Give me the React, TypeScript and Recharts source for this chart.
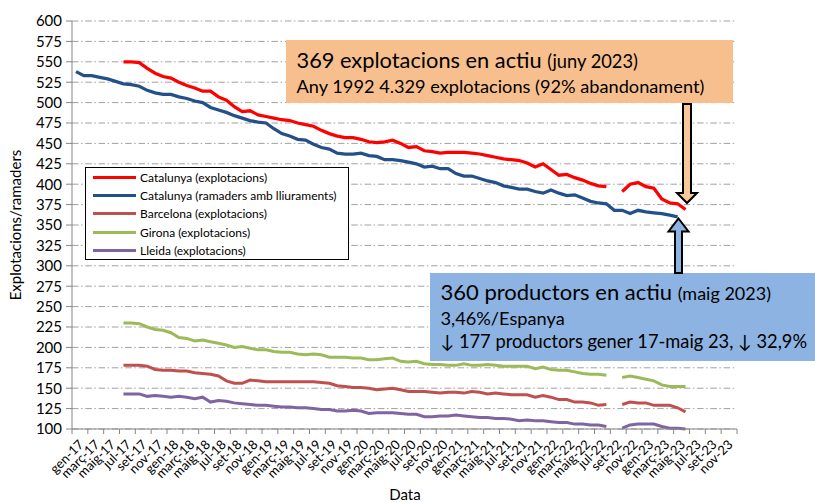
import { LineChart, Line, XAxis, YAxis, CartesianGrid, Legend } from "recharts";

// monthly data, gen-17 .. des-23 (index 0 = gen-17)
const tickLabels = [
  "gen-17", "març-17", "maig-17", "jul-17", "set-17", "nov-17",
  "gen-18", "març-18", "maig-18", "jul-18", "set-18", "nov-18",
  "gen-19", "març-19", "maig-19", "jul-19", "set-19", "nov-19",
  "gen-20", "març-20", "maig-20", "jul-20", "set-20", "nov-20",
  "gen-21", "març-21", "maig-21", "jul-21", "set-21", "nov-21",
  "gen-22", "març-22", "maig-22", "jul-22", "set-22", "nov-22",
  "gen-23", "març-23", "maig-23", "jul-23", "set-23", "nov-23",
];

const yTicks = [100, 125, 150, 175, 200, 225, 250, 275, 300, 325, 350, 375, 400, 425, 450, 475, 500, 525, 550, 575, 600];

const catalunya = [
  null, null, null, null, null, null, 550, 550, 549, 542, 536, 532,
  530, 525, 521, 518, 514, 514, 507, 503, 495, 489, 490, 485,
  483, 481, 479, 478, 475, 473, 471, 466, 462, 459, 457, 457,
  455, 452, 451, 452, 454, 450, 445, 446, 441, 440, 438, 439,
  439, 439, 438, 437, 435, 433, 431, 430, 429, 426, 421, 425,
  418, 411, 412, 408, 405, 401, 398, 397, null, 391, 400, 402,
  397, 395, 382, 377, 376, 369,
];

const ramaders = [
  538, 533, 533, 531, 529, 526, 523, 522, 520, 515, 512, 510,
  510, 507, 505, 502, 500, 494, 491, 488, 484, 481, 478, 476,
  475, 468, 462, 459, 455, 454, 449, 445, 443, 438, 437, 437,
  438, 435, 434, 430, 430, 429, 427, 425, 421, 422, 419, 419,
  413, 410, 410, 407, 404, 402, 398, 396, 394, 394, 391, 389,
  393, 389, 386, 387, 383, 379, 377, 376, 368, 368, 364, 368,
  366, 365, 364, 362, 360,
];

const barcelona = [
  null, null, null, null, null, null, 178, 178, 178, 177, 173, 172,
  172, 171, 171, 169, 168, 167, 165, 159, 156, 156, 160, 159,
  158, 158, 158, 158, 158, 158, 158, 157, 156, 153, 152, 151,
  151, 150, 148, 149, 150, 148, 146, 146, 146, 145, 144, 145,
  145, 144, 146, 145, 143, 144, 143, 142, 142, 142, 139, 141,
  139, 136, 136, 133, 133, 132, 129, 130, null, 130, 133, 132,
  132, 129, 129, 129, 126, 121,
];

const girona = [
  null, null, null, null, null, null, 230, 230, 229, 225, 222, 221,
  218, 212, 211, 208, 209, 207, 205, 203, 200, 201, 199, 197,
  197, 195, 194, 194, 192, 191, 192, 191, 188, 188, 188, 187,
  187, 185, 185, 186, 187, 183, 182, 183, 180, 179, 179, 178,
  178, 180, 178, 178, 179, 178, 177, 177, 177, 177, 174, 176,
  173, 172, 172, 170, 168, 167, 167, 166, null, 163, 165, 163,
  161, 159, 154, 152, 152, 152,
];

const lleida = [
  null, null, null, null, null, null, 143, 143, 143, 140, 141, 140,
  139, 140, 139, 137, 139, 133, 135, 134, 132, 131, 130, 129,
  129, 128, 127, 127, 126, 126, 125, 124, 124, 122, 122, 123,
  122, 119, 120, 120, 120, 119, 118, 118, 115, 115, 116, 116,
  117, 116, 115, 114, 114, 113, 113, 112, 110, 111, 110, 110,
  109, 108, 108, 106, 106, 105, 105, 103, null, 101, 105, 106,
  106, 106, 103, 101, 101, 100,
];

const series = [
  { key: "catalunya", name: "Catalunya (explotacions)", color: "#FF0000", width: 3.25, values: catalunya },
  { key: "ramaders", name: "Catalunya (ramaders amb lliuraments)", color: "#24508A", width: 3.25, values: ramaders },
  { key: "barcelona", name: "Barcelona (explotacions)", color: "#C0504D", width: 3, values: barcelona },
  { key: "girona", name: "Girona (explotacions)", color: "#9BBB59", width: 3, values: girona },
  { key: "lleida", name: "Lleida (explotacions)", color: "#8064A2", width: 3, values: lleida },
];

const MONTHS = 84;
const data = Array.from({ length: MONTHS }, (_, i) => {
  const row: Record<string, number | null> = { month: i };
  series.forEach((s) => {
    row[s.key] = s.values[i] ?? null;
  });
  return row;
});

const W = 815;
const H = 503;
const M = { top: 21, right: 78, bottom: 14, left: 10 };
const Y_AXIS_W = 62;
const PLOT_W = W - M.left - M.right - Y_AXIS_W;
const HALF = PLOT_W / MONTHS / 2;
const xTicks = tickLabels.map((_, k) => 2 * k - 0.5).concat(MONTHS - 0.5);

const FONT = "Lato, 'Open Sans', sans-serif";
const AXIS = "#868686";

const MonthTick = (props: any) => {
  const { x, y, payload } = props;
  const label = tickLabels[Math.round((payload.value + 0.5) / 2)];
  const lx = x + HALF + 2;
  const ly = y + 10;
  return (
    <g>
      <line x1={x} x2={x} y1={y} y2={y + 5} stroke={AXIS} />
      {payload.value < MONTHS - 1 && label && (
        <text
          x={lx}
          y={ly}
          dy="0.7em"
          textAnchor="end"
          fontSize={13}
          fontFamily={FONT}
          fill="#000"
          transform={`rotate(-45 ${lx} ${ly})`}
        >
          {label}
        </text>
      )}
    </g>
  );
};

const LegendBox = () => (
  <div
    style={{
      border: "1px solid #000",
      background: "#fff",
      padding: "0 0 0 7px",
      fontFamily: FONT,
      fontSize: 12,
      boxSizing: "border-box",
      width: 264,
      height: 93,
      textAlign: "left",
    }}
  >
    {series.map((s) => (
      <div key={s.key} style={{ display: "flex", alignItems: "center", height: 18.3 }}>
        <span style={{ display: "inline-block", width: 43, height: 3, background: s.color, marginRight: 4, flex: "none" }} />
        <span style={{ whiteSpace: "nowrap" }}>{s.name}</span>
      </div>
    ))}
  </div>
);

export default function App() {
  return (
    <div style={{ position: "relative", width: W, height: H, background: "#fff", fontFamily: FONT }}>
      <style>{`body{margin:0}`}</style>
      <LineChart width={W} height={H} data={data} margin={M}>
        <CartesianGrid vertical={false} stroke="#A0A0A0" strokeDasharray="6.5 2.5 1.5 2.8" />
        <XAxis
          dataKey="month"
          type="number"
          domain={[-0.5, MONTHS - 0.5]}
          ticks={xTicks}
          interval={0}
          height={60}
          tickSize={0}
          tickMargin={0}
          tickLine={false}
          tick={<MonthTick />}
          axisLine={{ stroke: AXIS }}
        />
        <YAxis
          type="number"
          domain={[100, 600]}
          ticks={yTicks}
          interval={0}
          width={Y_AXIS_W}
          tickSize={6}
          tickMargin={4}
          tickLine={{ stroke: AXIS }}
          axisLine={{ stroke: AXIS }}
          tick={{ fontSize: 15, fill: "#000", fontFamily: FONT }}
        />
        <Legend
          layout="vertical"
          align="center"
          verticalAlign="middle"
          content={<LegendBox />}
          wrapperStyle={{ position: "absolute", left: 85, top: 167, width: 264, height: 93 }}
        />
        {series.map((s) => (
          <Line
            key={s.key}
            dataKey={s.key}
            name={s.name}
            stroke={s.color}
            strokeWidth={s.width}
            dot={false}
            activeDot={false}
            isAnimationActive={false}
            connectNulls={false}
          />
        ))}
      </LineChart>

      <div
        style={{
          position: "absolute",
          left: 0,
          top: 225,
          width: 30,
          transform: "translate(0,-50%)",
          display: "flex",
          justifyContent: "center",
        }}
      >
        <div style={{ transform: "rotate(-90deg)", whiteSpace: "nowrap", fontSize: 15 }}>Explotacions/ramaders</div>
      </div>
      <div style={{ position: "absolute", left: 375, width: 60, top: 485, textAlign: "center", fontSize: 15 }}>Data</div>

      <svg width={W} height={H} style={{ position: "absolute", left: 0, top: 0, pointerEvents: "none" }} fontFamily={FONT} fill="#000">
        <rect x={286} y={40} width={447} height={63} fill="#F8BF8E" />
        <text x={296.5} y={68}>
          <tspan fontSize={21.8}>369 explotacions en actiu </tspan>
          <tspan fontSize={18.3}>(juny 2023)</tspan>
        </text>
        <text x={296.5} y={93.3} fontSize={18.2}>
          Any 1992 4.329 explotacions (92% abandonament)
        </text>

        <rect x={430} y={273} width={385} height={88} fill="#8DB3E2" />
        <text x={440.5} y={300}>
          <tspan fontSize={22}>360 productors en actiu </tspan>
          <tspan fontSize={18}>(maig 2023)</tspan>
        </text>
        <text x={440.5} y={325} fontSize={18.2}>
          3,46%/Espanya
        </text>
        <text x={440.5} y={348.3} fontSize={18.3}>
          ↓ 177 productors gener 17-maig 23, ↓ 32,9%
        </text>

        <polygon
          points="683,104 691,104 691,193 697,193 687,203 677,193 683,193"
          fill="#F8C79A"
          stroke="#000"
          strokeWidth={2}
        />
        <polygon
          points="678.5,218.5 688.5,231.5 682,231.5 682,273 675,273 675,231.5 668.5,231.5"
          fill="#8DB3E2"
          stroke="#000"
          strokeWidth={2}
        />
      </svg>
    </div>
  );
}
